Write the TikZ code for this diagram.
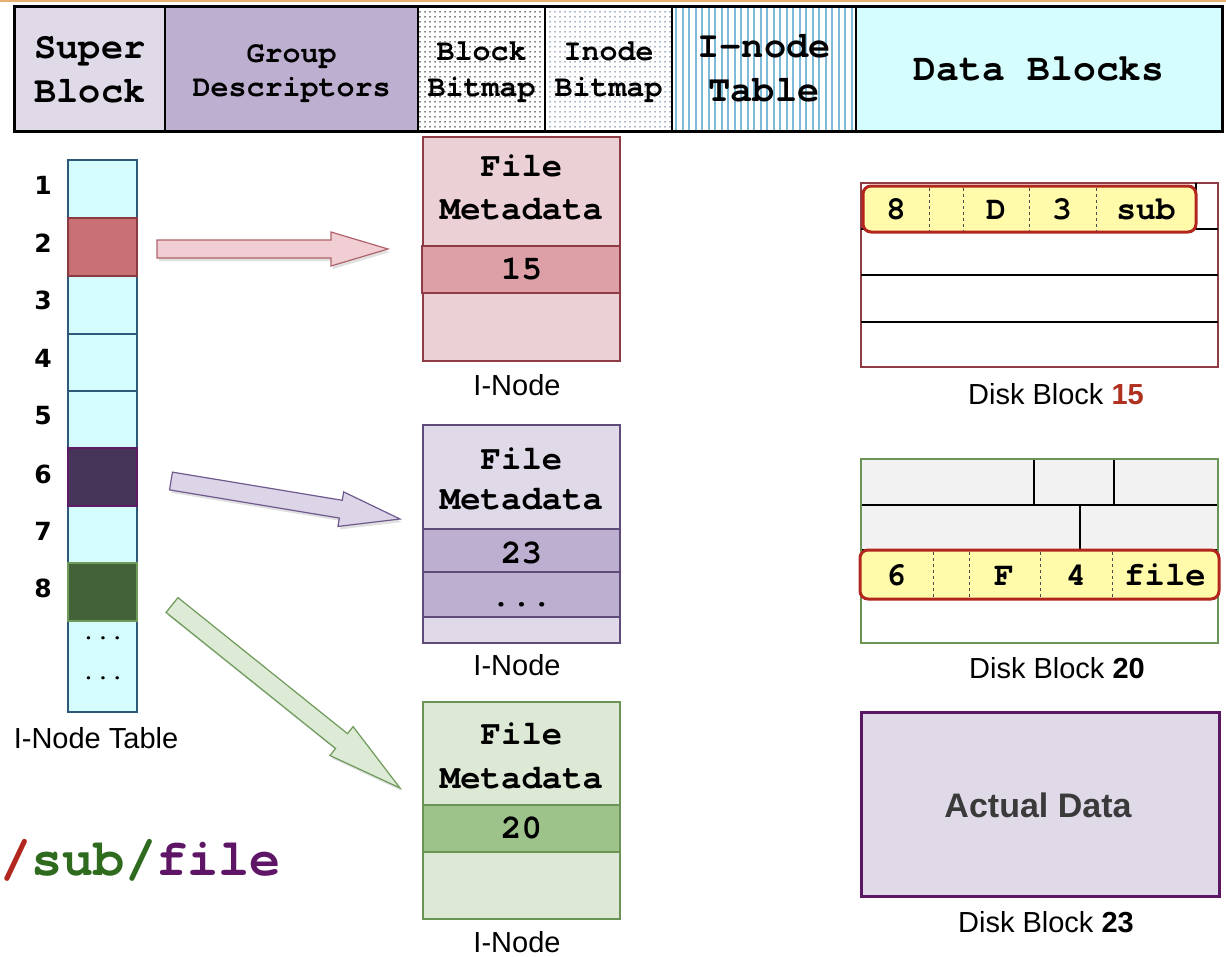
\documentclass[tikz,border=0pt]{standalone}
\usepackage{fontspec}
\setmainfont{Liberation Sans}
\IfFontExistsTF{TeX Gyre Cursor}{\newfontfamily\monof[Ligatures=NoCommon]{TeX Gyre Cursor}}{\newfontfamily\monof[Ligatures=NoCommon]{Liberation Mono}}
\newfontfamily\dejav{DejaVu Sans}
\usetikzlibrary{calc,patterns.meta}

\definecolor{hdrA}{HTML}{E0DAE8}
\definecolor{hdrB}{HTML}{BCAFCF}
\definecolor{cyanA}{HTML}{D5FDFD}
\definecolor{stripe}{HTML}{7DBBD9}
\definecolor{dotblue}{HTML}{4A6A8A}
\definecolor{colb}{HTML}{2E5A78}
\definecolor{cyanB}{HTML}{D5FCFC}
\definecolor{ctwoF}{HTML}{C97075}
\definecolor{ctwoD}{HTML}{8B3A42}
\definecolor{csixF}{HTML}{463558}
\definecolor{csixD}{HTML}{5E1A64}
\definecolor{ceigF}{HTML}{446239}
\definecolor{ceigD}{HTML}{6E9A5A}
\definecolor{pkA}{HTML}{EBD1D6}
\definecolor{pkR}{HTML}{DCA0A6}
\definecolor{pkB}{HTML}{8E3B46}
\definecolor{puA}{HTML}{DFD9E8}
\definecolor{puR}{HTML}{BDAFCF}
\definecolor{puB}{HTML}{5F4B7A}
\definecolor{gnA}{HTML}{DDE8D5}
\definecolor{gnR}{HTML}{9DC38B}
\definecolor{gnB}{HTML}{6A9455}
\definecolor{yel}{HTML}{FFFBAA}
\definecolor{yR}{HTML}{B3261E}
\definecolor{grayF}{HTML}{F2F2F2}
\definecolor{puD}{HTML}{5B1763}
\definecolor{arPkF}{HTML}{F0CED3}
\definecolor{arPkD}{HTML}{B0636B}
\definecolor{arPuF}{HTML}{DCD5E8}
\definecolor{arPuD}{HTML}{6F5A8E}
\definecolor{arGnF}{HTML}{DCEAD6}
\definecolor{arGnD}{HTML}{6E9A5A}
\definecolor{dbred}{HTML}{B03020}
\definecolor{pRed}{HTML}{B3261E}
\definecolor{pGreen}{HTML}{2E6B1E}
\definecolor{pPurple}{HTML}{5E1566}
\definecolor{topline}{HTML}{E8B070}
\definecolor{adata}{HTML}{3A3A3A}

\newcommand\fsz[1]{\fontsize{#1bp}{#1bp}\selectfont}

\newcommand\bx[6]{%
  \pgfmathsetmacro\bxcx{(#3+#5)/2}%
  \pgfmathsetmacro\bxcy{(#4+#6)/2}%
  \pgfmathsetmacro\bxw{#5-#3}%
  \pgfmathsetmacro\bxh{#6-#4}%
  \node[box,#2,minimum width=\bxw bp,minimum height=\bxh bp] (#1) at (\bxcx,\bxcy) {};}

\newcommand\blockarrow[6]{%
  \coordinate (hb#2) at ($(#3)!#6bp!(#2)$);
  \path[#1] ($(#2)!#4bp!90:(#3)$) -- ($(hb#2)!#4bp!90:(#3)$) -- ($(hb#2)!#5bp!90:(#3)$)
     -- (#3) -- ($(hb#2)!#5bp!-90:(#3)$) -- ($(hb#2)!#4bp!-90:(#3)$) -- ($(#2)!#4bp!-90:(#3)$) -- cycle;}

\tikzset{
  box/.style={rectangle,inner sep=0pt,outer sep=0pt},
  mt/.style={inner sep=0pt,anchor=base,font=\monof\bfseries\fsz{#1}},
  st/.style={inner sep=0pt,anchor=base,font=\fsz{#1}},
  num/.style={inner sep=0pt,anchor=base,font=\dejav\bfseries\fsz{25}},
  hdr/.style={draw=black,line width=2bp},
  cellc/.style={draw=colb,line width=2.5bp,fill=cyanB},
  thinl/.style={draw=black,line width=1.2bp},
  sepl/.style={draw=black!70,line width=0.8bp,dashed},
  yrow/.style={draw=yR,line width=3bp,fill=yel,rounded corners=8bp},
  shadowed/.style={fill=black,opacity=0.12,transform canvas={shift={(2bp,-3bp)}}},
}

\begin{document}
\begin{tikzpicture}[x=1bp,y=-1bp]
\useasboundingbox (0,0) rectangle (1226,957);
\fill[white] (0,0) rectangle (1226,957);
\draw[topline,line width=1.5bp] (0,1) -- (1226,1);

% ---------- header ----------
\bx{sb}{hdr,fill=hdrA}{15}{6}{165}{131}
\bx{gd}{hdr,fill=hdrB}{165}{6}{418}{131}
\bx{bb}{hdr,pattern={Dots[distance=5bp,radius=0.75bp]},pattern color=black}{418}{6}{545}{131}
\bx{ib}{hdr,pattern={Dots[distance=5bp,radius=0.75bp]},pattern color=dotblue}{545}{6}{672}{131}
\bx{it}{hdr,pattern={Lines[angle=90,distance=6.5bp,line width=2bp]},pattern color=stripe}{672}{6}{856}{131}
\bx{db}{hdr,fill=cyanA}{856}{6}{1222}{131}
\draw[line width=3bp] (sb.north west) rectangle (db.south east);

\node[mt=37] (sbt1) at (90,58) {Super};
\node[mt=37] (sbt2) at (90,102) {Block};
\node[mt=30] (gdt1) at (291.5,62) {Group};
\node[mt=30] (gdt2) at (291.5,96) {Descriptors};
\node[mt=30] (bbt1) at (481.5,60) {Block};
\node[mt=30] (bbt2) at (481.5,96) {Bitmap};
\node[mt=30] (ibt1) at (608.5,60) {Inode};
\node[mt=30] (ibt2) at (608.5,96) {Bitmap};
\node[mt=37] (itt1) at (764,57) {I-node};
\node[mt=37] (itt2) at (764,101) {Table};
\node[mt=38] (dbt) at (1039,80) {Data Blocks};

% ---------- inode table column ----------
\bx{c1}{cellc}{68}{160}{137}{218}
\bx{c3}{cellc}{68}{276}{137}{334}
\bx{c4}{cellc}{68}{334}{137}{391}
\bx{c5}{cellc}{68}{391}{137}{448}
\bx{c7}{cellc}{68}{506}{137}{563}
\bx{c9}{cellc}{68}{621}{137}{712}
\bx{c2}{draw=ctwoD,line width=2.5bp,fill=ctwoF}{68}{218}{137}{276}
\bx{c6}{draw=csixD,line width=2.5bp,fill=csixF}{68}{448}{137}{506}
\bx{c8}{draw=ceigD,line width=2.5bp,fill=ceigF}{68}{563}{137}{621}

\node[num] (n1) at (43,194) {1};
\node[num] (n2) at (43,252) {2};
\node[num] (n3) at (43,309) {3};
\node[num] (n4) at (43,367) {4};
\node[num] (n5) at (43,424) {5};
\node[num] (n6) at (43,483) {6};
\node[num] (n7) at (43,540) {7};
\node[num] (n8) at (43,597) {8};
\node[mt=24] (dd1) at (103,639) {...};
\node[mt=24] (dd2) at (103,679) {...};
\node[st=29] (itl) at (96,748) {I-Node Table};

% ---------- inodes ----------
\bx{i1}{draw=pkB,line width=2.5bp,fill=pkA}{423}{137}{620}{361}
\bx{i1r}{draw=pkB,line width=2.5bp,fill=pkR}{422}{246}{620}{293}
\node[mt=34] (i1a) at (521.5,176) {File};
\node[mt=34] (i1b) at (521.5,219) {Metadata};
\node[mt=34] (i1c) at (521.5,279) {15};
\node[st=29] (i1l) at (517,395) {I-Node};

\bx{i2}{draw=puB,line width=2.5bp,fill=puA}{423}{425}{620}{643}
\bx{i2r}{draw=puB,line width=2.5bp,fill=puR}{423}{529}{620}{572}
\bx{i2s}{draw=puB,line width=2.5bp,fill=puR}{423}{572}{620}{617}
\node[mt=34] (i2a) at (521.5,469) {File};
\node[mt=34] (i2b) at (521.5,509) {Metadata};
\node[mt=34] (i2c) at (521.5,563) {23};
\node[mt=34] (i2d) at (521.5,606) {...};
\node[st=29] (i2l) at (517,675) {I-Node};

\bx{i3}{draw=gnB,line width=2.5bp,fill=gnA}{423}{702}{620}{919}
\bx{i3r}{draw=gnB,line width=2.5bp,fill=gnR}{423}{805}{620}{852}
\node[mt=34] (i3a) at (521.5,744) {File};
\node[mt=34] (i3b) at (521.5,788) {Metadata};
\node[mt=34] (i3c) at (521.5,838) {20};
\node[st=29] (i3l) at (517,952) {I-Node};

% ---------- block arrows ----------
\coordinate (a1s) at (157,249); \coordinate (a1e) at (388,249);
\coordinate (a2s) at (171,481); \coordinate (a2e) at (400,519);
\coordinate (a3s) at (172,605); \coordinate (a3e) at (400,788);
\blockarrow{shadowed}{a1s}{a1e}{9}{17}{57}
\blockarrow{fill=arPkF,draw=arPkD,line width=1.2bp}{a1s}{a1e}{9}{17}{57}
\blockarrow{shadowed}{a2s}{a2e}{9}{17.5}{60}
\blockarrow{fill=arPuF,draw=arPuD,line width=1.2bp}{a2s}{a2e}{9}{17.5}{60}
\blockarrow{shadowed}{a3s}{a3e}{9.5}{18.5}{75}
\blockarrow{fill=arGnF,draw=arGnD,line width=1.2bp}{a3s}{a3e}{9.5}{18.5}{75}

% ---------- disk block 15 ----------
\bx{b15}{draw=pkB,line width=2.5bp}{861}{183}{1218}{367}
\draw[thinl] (861,229) -- (1218,229);
\draw[thinl] (861,275) -- (1218,275);
\draw[thinl] (861,322) -- (1218,322);
\draw[thinl] (1196,183) -- (1196,229);
\bx{y15}{yrow}{863}{186}{1196}{232}
\foreach \sx in {929,963,1029,1096} {\draw[sepl] (\sx,188) -- (\sx,230);}
\node[mt=33] (y15a) at (896,219) {8};
\node[mt=33] (y15b) at (996,219) {D};
\node[mt=33] (y15c) at (1062,219) {3};
\node[mt=33] (y15d) at (1146,219) {sub};
\node[st=29] (l15) at (1056,404) {Disk Block \textcolor{dbred}{\bfseries 15}};

% ---------- disk block 20 ----------
\fill[grayF] (861,459) rectangle (1218,550);
\draw[thinl] (861,505) -- (1218,505);
\draw[thinl] (1034,459) -- (1034,505);
\draw[thinl] (1114,459) -- (1114,505);
\draw[thinl] (1080,505) -- (1080,550);
\draw[thinl] (861,550) -- (1218,550);
\bx{b20}{draw=gnB,line width=2.5bp}{861}{459}{1218}{643}
\bx{y20}{yrow}{860}{550}{1219}{599}
\foreach \sx in {933,969,1040,1112} {\draw[sepl] (\sx,552) -- (\sx,597);}
\node[mt=33] (y20a) at (896,585) {6};
\node[mt=33] (y20b) at (1004,585) {F};
\node[mt=33] (y20c) at (1076,585) {4};
\node[mt=34] (y20d) at (1165,585) {file};
\node[st=29] (l20) at (1057,678) {Disk Block {\bfseries 20}};

% ---------- disk block 23 ----------
\bx{b23}{draw=puD,line width=3bp,fill=puA}{861}{712}{1219}{896}
\node[st=34,text=adata,font=\bfseries\fsz{34}] (adt) at (1038,817) {Actual Data};
\node[st=29] (l23) at (1046,932) {Disk Block {\bfseries 23}};

% ---------- path ----------
\node[inner sep=0pt,anchor=base west,font=\monof\bfseries\fsz{52}] (pth) at (0,875)
  {\textcolor{pRed}{/}\textcolor{pGreen}{sub/}\textcolor{pPurple}{file}};
\end{tikzpicture}
\end{document}
